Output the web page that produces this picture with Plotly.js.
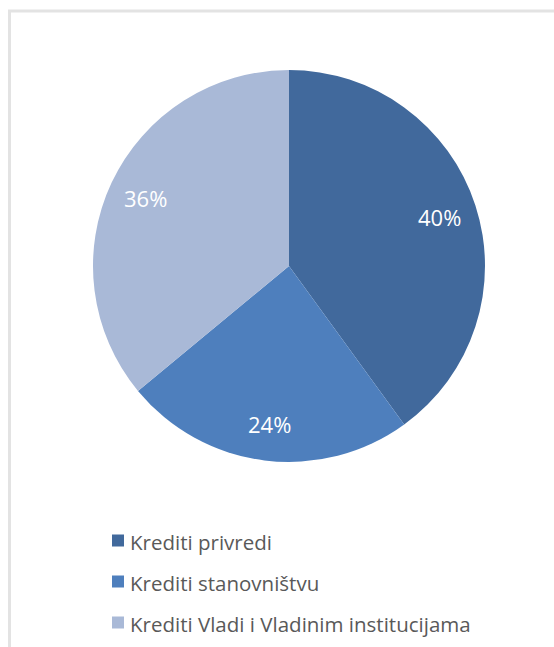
<!DOCTYPE html>
<html>
<head>
<meta charset="utf-8">
<script src="https://cdn.plot.ly/plotly-3.0.1.min.js"></script>
<style>
html,body{margin:0;padding:0;background:#fff;}
#chart{width:554px;height:647px;}
</style>
</head>
<body>
<div id="chart"></div>
<script>
const categories = ["Krediti privredi", "Krediti stanovništvu", "Krediti Vladi i Vladinim institucijama"];
const shares = [40, 24, 36];
const sliceColors = ["#41699C", "#4E7FBD", "#A9B9D7"];

const W = 554, H = 647;
const FONT = "Open Sans, Noto Sans, sans-serif";
// pie geometry (pixels)
const cx = 289, cy = 266, R = 196;
const px = v => v / W;
const py = v => 1 - v / H;

const trace = {
  type: "pie",
  labels: categories,
  values: shares,
  sort: false,
  direction: "clockwise",
  rotation: 0,
  marker: {colors: sliceColors, line: {color: "#ffffff", width: 0}},
  textinfo: "none",
  hoverinfo: "none",
  showlegend: false,
  domain: {x: [px(cx - R), px(cx + R)], y: [py(cy + R), py(cy - R)]}
};

// data labels placed at each slice's mid-angle, computed from the values
const total = shares.reduce((a, b) => a + b, 0);
const annotations = [];
let cum = 0;
shares.forEach((v, i) => {
  const mid = (cum + v / 2) / total * 2 * Math.PI;
  cum += v;
  const r = 0.81 * R;
  annotations.push({
    xref: "paper", yref: "paper",
    x: px(cx + r * Math.sin(mid)), y: py(cy - r * Math.cos(mid)),
    xanchor: "center", yanchor: "middle",
    text: Math.round(v / total * 100) + "%",
    showarrow: false,
    font: {family: FONT, size: 22, color: "#ffffff"}
  });
});

// legend (vertical list below the pie)
const shapes = [
  {type: "line", xref: "paper", yref: "paper", x0: px(9.5), x1: px(9.5), y0: 0, y1: py(11), line: {color: "#e3e3e3", width: 3}},
  {type: "line", xref: "paper", yref: "paper", x0: px(8), x1: 1, y0: py(11), y1: py(11), line: {color: "#e3e3e3", width: 3}}
];
const legTop = 540.5, legStep = 41, sq = 12, sqX = 112, txtX = 128;
categories.forEach((c, i) => {
  const yc = legTop + i * legStep;
  shapes.push({type: "rect", xref: "paper", yref: "paper",
    x0: px(sqX), x1: px(sqX + sq), y0: py(yc + sq / 2), y1: py(yc - sq / 2),
    fillcolor: sliceColors[i], line: {width: 0}});
  annotations.push({xref: "paper", yref: "paper", x: px(txtX), y: py(yc + 1),
    xanchor: "left", yanchor: "middle", text: c, showarrow: false,
    font: {family: FONT, size: 20.5, color: "#595959"}});
});

const layout = {
  width: W, height: H,
  margin: {l: 0, r: 0, t: 0, b: 0},
  paper_bgcolor: "#ffffff",
  showlegend: false,
  annotations: annotations,
  shapes: shapes
};

Plotly.newPlot("chart", [trace], layout, {displayModeBar: false, staticPlot: true});
</script>
</body>
</html>
